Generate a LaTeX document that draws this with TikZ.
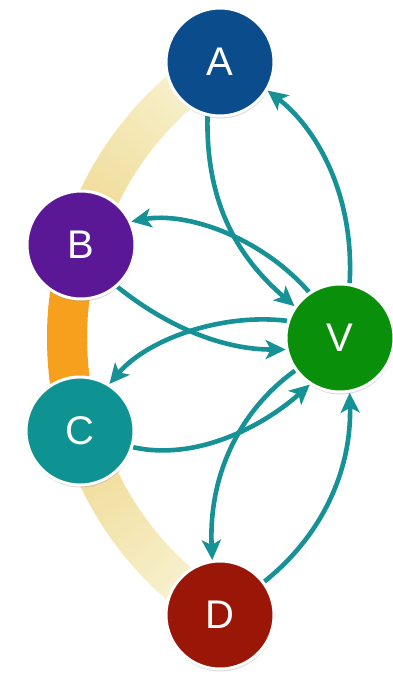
\documentclass[tikz,border=0pt]{standalone}
\usepackage{fontspec}
\setmainfont{Liberation Sans}
\usetikzlibrary{arrows.meta,shadows}
\definecolor{teal1}{RGB}{22,146,150}
\definecolor{colA}{RGB}{11,76,140}
\definecolor{colB}{RGB}{91,24,150}
\definecolor{colC}{RGB}{14,146,146}
\definecolor{colD}{RGB}{154,22,6}
\definecolor{colV}{RGB}{10,143,10}
\definecolor{paleband}{RGB}{249,246,218}
\definecolor{yellowband}{RGB}{239,216,142}
\definecolor{orangeband}{RGB}{246,160,30}
\pgfdeclarelayer{bg}
\pgfsetlayers{bg,main}
\begin{document}
\begin{tikzpicture}[x=1pt,y=-1pt,
  vtx/.style={circle, minimum size=108pt, inner sep=0pt, draw=white, line width=3pt,
    text=white, font=\fontsize{40}{40}\selectfont,
    drop shadow={shadow xshift=0.5pt, shadow yshift=-2.5pt, opacity=0.3}},
  link/.style={draw=teal1, line width=4.6pt, -{Stealth[length=20pt,width=19pt,inset=5pt]}},
  bandseg/.style={line width=40pt, line cap=butt}]
\useasboundingbox (0,0) rectangle (392,678);
\node[vtx, fill=colA] (A) at (220,62) {A};
\node[vtx, fill=colB] (B) at (81,245) {B};
\node[vtx, fill=colV] (V) at (340,338) {V};
\node[vtx, fill=colC] (C) at (80,431) {C};
\node[vtx, fill=colD] (D) at (220,615) {D};
\begin{pgfonlayer}{bg}
\fill[white] (0,0) rectangle (392,678);
% band D -> C
\foreach \t in {122,...,163}{
  \pgfmathtruncatemacro{\p}{(\t-122)/41.5*100}
  \draw[bandseg, draw=yellowband!\p!paleband] ({393+326*cos(\t)},{338+326*sin(\t)}) arc[start angle=\t, end angle=\t+1.3, radius=326];
}
% band C -> B
\foreach \t in {164,...,196}{
  \draw[bandseg, draw=orangeband] ({393+326*cos(\t)},{338+326*sin(\t)}) arc[start angle=\t, end angle=\t+1.3, radius=326];
}
% band B -> A
\foreach \t in {197,...,237}{
  \pgfmathtruncatemacro{\p}{(238-\t)/41*100}
  \draw[bandseg, draw=yellowband!\p!paleband] ({393+326*cos(\t)},{338+326*sin(\t)}) arc[start angle=\t, end angle=\t+1.3, radius=326];
}
% connectors
\draw[link] (A.257) .. controls +(-2,93) and +(-52,-45) .. (V.145);
\draw[link] (V.80) .. controls +(5,-90) and +(48,37) .. (A.329);
\draw[link] (V.124) .. controls +(-48,-55) and +(55,-10) .. (B.25);
\draw[link] (B.-49) .. controls +(50,40) and +(-63,0) .. (V.192);
\draw[link] (V.162) .. controls +(-65,-8) and +(38,-45) .. (C.58);
\draw[link] (C.-17) .. controls +(63,14) and +(-47,42) .. (V.237);
\draw[link] (V.216) .. controls +(-53,38) and +(-4,-88) .. (D.98);
\draw[link] (D.37) .. controls +(60,-48) and +(2,75) .. (V.280);
\end{pgfonlayer}
\end{tikzpicture}
\end{document}
